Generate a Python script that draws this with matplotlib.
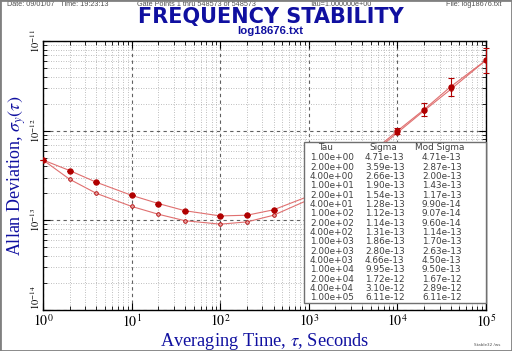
import matplotlib
matplotlib.use("Agg")
import matplotlib.pyplot as plt
from matplotlib.patches import Rectangle
from matplotlib.ticker import LogLocator, NullFormatter
import numpy as np

tau = [1, 2, 4, 10, 20, 40, 100, 200, 400, 1e3, 2e3, 4e3, 1e4, 2e4, 4e4, 1e5]
sigma = [4.71e-13, 3.59e-13, 2.66e-13, 1.90e-13, 1.54e-13, 1.28e-13, 1.12e-13, 1.14e-13,
         1.31e-13, 1.86e-13, 2.80e-13, 4.66e-13, 9.95e-13, 1.72e-12, 3.10e-12, 6.11e-12]
mod_sigma = [4.71e-13, 2.87e-13, 2.00e-13, 1.43e-13, 1.17e-13, 9.90e-14, 9.07e-14, 9.60e-14,
             1.14e-13, 1.70e-13, 2.63e-13, 4.50e-13, 9.50e-13, 1.67e-12, 2.89e-12, 6.11e-12]
err_frac = [0, 0, 0, 0, 0, 0, 0, 0, 0, 0.02, 0.03, 0.05, 0.08, 0.17, 0.26, 0.38]
tau_labels = ["1.00e+00", "2.00e+00", "4.00e+00", "1.00e+01", "2.00e+01", "4.00e+01",
              "1.00e+02", "2.00e+02", "4.00e+02", "1.00e+03", "2.00e+03", "4.00e+03",
              "1.00e+04", "2.00e+04", "4.00e+04", "1.00e+05"]
sigma_labels = ["4.71e-13", "3.59e-13", "2.66e-13", "1.90e-13", "1.54e-13", "1.28e-13",
                "1.12e-13", "1.14e-13", "1.31e-13", "1.86e-13", "2.80e-13", "4.66e-13",
                "9.95e-13", "1.72e-12", "3.10e-12", "6.11e-12"]
mod_labels = ["4.71e-13", "2.87e-13", "2.00e-13", "1.43e-13", "1.17e-13", "9.90e-14",
              "9.07e-14", "9.60e-14", "1.14e-13", "1.70e-13", "2.63e-13", "4.50e-13",
              "9.50e-13", "1.67e-12", "2.89e-12", "6.11e-12"]

plt.rcParams["mathtext.fontset"] = "stix"

W, H = 512, 351
fig = plt.figure(figsize=(W / 100, H / 100), dpi=100)
fig.patch.set_facecolor("white")

def fx(x):
    return x / W

def fy(y):
    return 1 - y / H

L, R, T, B = 43, 486, 41, 310
ax = fig.add_axes([fx(L), fy(B), (R - L) / W, (B - T) / H])
ax.set_xscale("log")
ax.set_yscale("log")
ax.set_xlim(1, 1e5)
ax.set_ylim(1e-14, 1e-11)

ax.grid(True, which="major", linestyle=(0, (3, 3)), color="#606060", linewidth=0.8)
ax.grid(True, which="minor", linestyle=(0, (1, 2)), color="#a8a8a8", linewidth=0.6)
ax.xaxis.set_minor_locator(LogLocator(base=10, subs=np.arange(2, 10)))
ax.yaxis.set_minor_locator(LogLocator(base=10, subs=np.arange(2, 10)))
ax.xaxis.set_minor_formatter(NullFormatter())
ax.yaxis.set_minor_formatter(NullFormatter())
ax.tick_params(which="major", direction="in", top=True, right=True, length=5, width=0.8)
ax.tick_params(which="minor", direction="in", top=True, right=True, length=3, width=0.6)
for s in ax.spines.values():
    s.set_color("black")
    s.set_linewidth(1.0)

serif = ["Liberation Serif", "DejaVu Serif"]
ax.set_xticks([1, 10, 100, 1e3, 1e4, 1e5])
ax.set_xticklabels([r"$10^{%d}$" % i for i in range(6)])
ax.set_yticks([1e-14, 1e-13, 1e-12, 1e-11])
ax.set_yticklabels([r"$10^{%d}$" % i for i in (-14, -13, -12, -11)], rotation=90, va="center")
for lab in ax.get_xticklabels():
    lab.set_fontsize(10)
    lab.set_family(serif)
ylabs = ax.get_yticklabels()
for lab in ylabs:
    lab.set_fontsize(7.5)
    lab.set_family(serif)
ylabs[0].set_va("bottom")
ax.tick_params(axis="x", pad=2.5)
ax.tick_params(axis="y", pad=0.5)

line_col = "#e07070"
mark_col = "#b00000"
ax.plot(tau, mod_sigma, color=line_col, linewidth=0.8, marker="o", markersize=2.6,
        markerfacecolor="#e8a0a0", markeredgecolor=mark_col, markeredgewidth=0.6, zorder=4)
ax.plot(tau, sigma, color=line_col, linewidth=0.8, marker="o", markersize=3.6,
        markerfacecolor=mark_col, markeredgecolor=mark_col, zorder=5)
s_arr = np.array(sigma)
e_arr = np.array(err_frac)
ax.errorbar(tau, sigma, yerr=[s_arr - s_arr / (1 + e_arr), s_arr * e_arr], fmt="none",
            ecolor=mark_col, elinewidth=0.8, capsize=2.5, capthick=0.8, zorder=5,
            clip_on=False)

blue = "#1010a0"
fig.text(fx(271), fy(23.5), "FREQUENCY STABILITY", ha="center", va="baseline",
         fontsize=15, fontweight="bold", color=blue, family=["DejaVu Sans"])
fig.text(fx(270), fy(34), "log18676.txt", ha="center", va="baseline",
         fontsize=8.2, fontweight="bold", color=blue, family=["Liberation Sans", "DejaVu Sans"])
fig.text(fx(17), fy(176), r"Allan Deviation, $\sigma_y(\tau)$", rotation=90, ha="center",
         va="center", fontsize=13, color=blue, family=serif)
fig.text(fx(265), fy(345.5), r"Averaging Time, $\tau$, Seconds", ha="center", va="baseline",
         fontsize=13.2, color=blue, family=serif)

hdr = dict(fontsize=5.2, color="#505050", va="center", family=["Liberation Sans", "DejaVu Sans"])
fig.text(fx(7), fy(5), "Date: 09/01/07   Time: 19:23:13", ha="left", **hdr)
fig.text(fx(137), fy(5), "Gate Points 1 thru 548573 of 548573", ha="left", **hdr)
fig.text(fx(310), fy(5), "Tau=1.000000e+00", ha="left", **hdr)
fig.text(fx(502), fy(5), "File: log18676.txt", ha="right", **hdr)
fig.text(fx(500), fy(345), "Stable32 /ws", ha="right", va="center", fontsize=3,
         color="#505050")

# table
tx0, ty0, tx1, ty1 = 304, 142, 486, 303
fig.patches.append(Rectangle((fx(tx0), fy(ty1)), (tx1 - tx0) / W, (ty1 - ty0) / H,
                             transform=fig.transFigure, facecolor="white",
                             edgecolor="#707070", linewidth=1.0, zorder=10))
tb = dict(fontsize=6.4, color="#404040", va="baseline", zorder=11,
          family=["DejaVu Sans"])
fig.text(fx(325), fy(150.5), "Tau", ha="center", **tb)
fig.text(fx(383), fy(150.5), "Sigma", ha="center", **tb)
fig.text(fx(440), fy(150.5), "Mod Sigma", ha="center", **tb)
for i in range(len(tau_labels)):
    yy = 160.5 + i * 9.33
    fig.text(fx(310), fy(yy), tau_labels[i], ha="left", **tb)
    fig.text(fx(365), fy(yy), sigma_labels[i], ha="left", **tb)
    fig.text(fx(422), fy(yy), mod_labels[i], ha="left", **tb)

fig.patches.append(Rectangle((0, 0), 1, 1, transform=fig.transFigure, facecolor="none",
                             edgecolor="#808080", linewidth=2, zorder=20))

fig.savefig("out.png", dpi=100)
